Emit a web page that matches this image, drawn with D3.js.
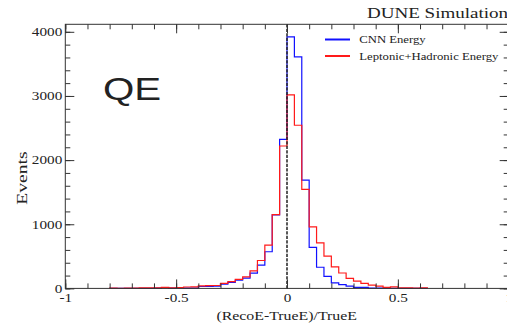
<!DOCTYPE html>
<html>
<head>
<meta charset="utf-8">
<script src="https://cdn.jsdelivr.net/npm/d3@7"></script>
<style>
  body { margin: 0; background: #fff; }
  svg { display: block; }
  text { font-family: "Liberation Serif", "DejaVu Serif", serif; fill: #222; }
</style>
</head>
<body>
<svg id="chart" width="507" height="328"></svg>
<script>
// histogram binning: 1/30 wide bins starting at -0.8
const binLo = -0.8;
const binW = 1 / 30;

// bin contents (bin i = [binLo + i*binW, binLo + (i+1)*binW))
const cnnCounts = [0, 0, 0, 0, 1, 1, 3, 10, 3, 8, 5, 5, 30, 32, 35, 67, 94, 127, 160, 238, 363, 571,
  1145, 2323, 3922, 3608, 1688, 639, 330, 187, 85, 60, 36, 16, 16, 5, 5, 3, 2, 1, 1, 0, 0];
const lhCounts = [5, 2, 5, 5, 8, 8, 8, 15, 8, 12, 22, 25, 40, 42, 45, 78, 106, 142, 181, 272, 435, 675,
  1150, 2220, 3018, 2543, 1545, 960, 711, 503, 337, 240, 156, 114, 78, 51, 36, 16, 25, 8, 8, 3, 8];

const seriesNames = ["CNN Energy", "Leptonic+Hadronic Energy"];
const seriesColors = ["#1010ff", "#ff1a1a"];

const xMajor = [-1, -0.5, 0, 0.5, 1];
const xMinor = d3.range(-10, 11).map(d => d / 10);
const yMajor = [0, 1000, 2000, 3000, 4000];
const yMinor = d3.range(0, 4200, 200);

const plotL = 65.3, plotR = 508.7, plotT = 24.3, plotB = 288.4;
const sx = 1.27; // the picture is stretched sideways, text too

const svg = d3.select("#chart");

const x = d3.scaleLinear().domain([-1, 1]).range([plotL, plotR]);
const y = d3.scaleLinear().domain([0, 4117]).range([plotB, plotT]);

function histPoints(counts) {
    const pts = [[binLo, 0]];
    counts.forEach((c, i) => pts.push([binLo + i * binW, c]));
    pts.push([binLo + counts.length * binW, 0]);
    return pts;
}

const step = d3.line()
    .x(d => x(d[0]))
    .y(d => y(d[1]))
    .curve(d3.curveStepAfter);

[cnnCounts, lhCounts].forEach((counts, i) => {
    svg.append("path")
        .attr("d", step(histPoints(counts)))
        .attr("fill", "none")
        .attr("stroke", seriesColors[i])
        .attr("stroke-width", 1.2);
});

// dashed line at zero
svg.append("line")
    .attr("x1", x(0)).attr("x2", x(0))
    .attr("y1", y.range()[1]).attr("y2", y(0))
    .attr("stroke", "#222")
    .attr("stroke-width", 1.5)
    .attr("stroke-dasharray", "3.2,1.3");

// axes (ticks point inside the frame)
function styleAxis(g) {
    g.select(".domain").remove();
    g.selectAll("line").attr("stroke", "#333");
}

svg.append("g")
    .attr("transform", `translate(0,${plotB})`)
    .call(d3.axisBottom(x).tickValues(xMinor).tickSizeInner(-5).tickSizeOuter(0).tickFormat(""))
    .call(styleAxis);
const xAx = svg.append("g")
    .attr("transform", `translate(0,${plotB})`)
    .call(d3.axisBottom(x).tickValues(xMajor).tickSizeInner(-9).tickSizeOuter(0)
        .tickPadding(5).tickFormat(d => String(d)))
    .call(styleAxis);
xAx.selectAll("text")
    .attr("transform", `scale(${sx},1)`)
    .style("font-family", "Liberation Serif")
    .style("font-size", "12px")
    .attr("fill", "#222");

svg.append("g")
    .attr("transform", `translate(0,${plotT})`)
    .call(d3.axisTop(x).tickValues(xMinor).tickSizeInner(-5).tickSizeOuter(0).tickFormat(""))
    .call(styleAxis);
svg.append("g")
    .attr("transform", `translate(0,${plotT})`)
    .call(d3.axisTop(x).tickValues(xMajor).tickSizeInner(-9).tickSizeOuter(0).tickFormat(""))
    .call(styleAxis);

svg.append("g")
    .attr("transform", `translate(${plotL},0)`)
    .call(d3.axisLeft(y).tickValues(yMinor).tickSizeInner(-5).tickSizeOuter(0).tickFormat(""))
    .call(styleAxis);
const yAx = svg.append("g")
    .attr("transform", `translate(${plotL},0)`)
    .call(d3.axisLeft(y).tickValues(yMajor).tickSizeInner(-9).tickSizeOuter(0)
        .tickPadding(2.4).tickFormat(d3.format("d")))
    .call(styleAxis);
yAx.selectAll("text")
    .attr("transform", `scale(${sx},1)`)
    .style("font-family", "Liberation Serif")
    .style("font-size", "12px")
    .attr("fill", "#222");

svg.append("g")
    .attr("transform", `translate(${plotR},0)`)
    .call(d3.axisRight(y).tickValues(yMinor).tickSizeInner(-5).tickSizeOuter(0).tickFormat(""))
    .call(styleAxis);
svg.append("g")
    .attr("transform", `translate(${plotR},0)`)
    .call(d3.axisRight(y).tickValues(yMajor).tickSizeInner(-9).tickSizeOuter(0).tickFormat(""))
    .call(styleAxis);

// frame
svg.append("rect")
    .attr("x", plotL).attr("y", plotT)
    .attr("width", plotR - plotL).attr("height", plotB - plotT)
    .attr("fill", "none")
    .attr("stroke", "#333")
    .attr("stroke-width", 1);

// text helper
function label(txt, tx, ty, opts) {
    const o = Object.assign({size: 12, anchor: "start", rot: 0, sx: sx, sy: 1, fill: "#222",
        family: "Liberation Serif", weight: "normal"}, opts);
    svg.append("text")
        .attr("transform", `translate(${tx},${ty}) rotate(${o.rot}) scale(${o.sx},${o.sy})`)
        .attr("text-anchor", o.anchor)
        .style("font-family", o.family)
        .style("font-size", o.size + "px")
        .style("font-weight", o.weight)
        .attr("fill", o.fill)
        .text(txt);
}

label("(RecoE-TrueE)/TrueE", 286.7, 319.5, {size: 12.5, anchor: "middle"});
label("Events", 27, 178, {size: 14, anchor: "middle", rot: -90, sx: 1.4, sy: 1});
label("DUNE Simulation", 367, 18.3, {size: 15, fill: "#8a8a8a"});
label("QE", 103, 100, {size: 31, family: "Liberation Sans", fill: "#000", sx: 1.3});

// legend
const legY = [39.5, 56];
seriesNames.forEach((name, i) => {
    svg.append("line")
        .attr("x1", 325).attr("x2", 350)
        .attr("y1", legY[i]).attr("y2", legY[i])
        .attr("stroke", seriesColors[i])
        .attr("stroke-width", 2);
    label(name, 359.3, legY[i] + 3.7, {size: 10});
});
</script>
</body>
</html>
